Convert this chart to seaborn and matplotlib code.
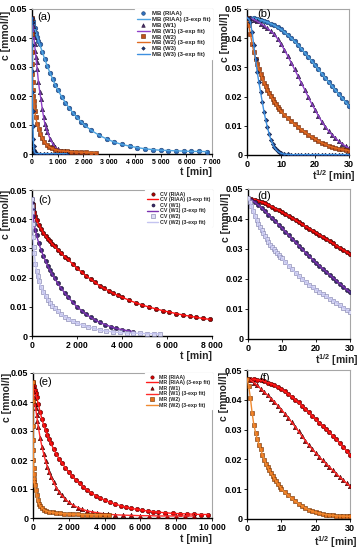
import matplotlib
matplotlib.use("Agg")
import matplotlib.pyplot as plt
import pandas as pd
import seaborn as sns
from matplotlib.lines import Line2D

# ---------------- data ----------------
s_grid = [0, 1, 2, 3, 4, 5, 6, 7, 8, 9, 10, 11, 12, 13, 14, 15, 16, 17, 18, 19, 20,
          21, 22, 23, 24, 25, 26, 27, 28, 29, 30]
s_fine = [0, 0.5, 1, 1.5, 2, 2.5, 3, 3.5, 4, 4.5, 5, 5.5, 6, 6.5, 7, 7.5, 8, 8.5, 9, 9.5, 10,
          11, 12, 13, 14, 15, 16, 17, 18, 19, 20, 21, 22, 23, 24, 25, 26, 27, 28, 29, 30]

y_ticks = [0, 0.01, 0.02, 0.03, 0.04, 0.05]
y_ticklabels = ["0", "0.01", "0.02", "0.03", "0.04", "0.05"]
sq_ticks = [0, 10, 20, 30]
sq_ticklabels = ["0", "10", "20", "30"]
mb_t_ticks = [0, 1000, 2000, 3000, 4000, 5000, 6000, 7000]
mb_t_ticklabels = ["0", "1 000", "2 000", "3 000", "4 000", "5 000", "6 000", "7 000"]
cv_t_ticks = [0, 2000, 4000, 6000, 8000]
cv_t_ticklabels = ["0", "2 000", "4 000", "6 000", "8 000"]
mr_t_ticks = [0, 2000, 4000, 6000, 8000, 10000]
mr_t_ticklabels = ["0", "2 000", "4 000", "6 000", "8 000", "10 000"]

mb_names = ["MB (RIAA)", "MB (W1)", "MB (W2)", "MB (W3)"]
cv_names = ["CV (RIAA)", "CV (W1)", "CV (W2)"]
mr_names = ["MR (RIAA)", "MR (W1)", "MR (W2)"]
fit_suffix = " (3-exp fit)"

# --- MB, c vs t (panel a)
mb_riaa_t = [0, 25, 50, 100, 150, 200, 250, 300, 400, 500, 600, 700, 800, 900, 1000, 1150, 1300,
             1450, 1600, 1750, 1900, 2050, 2300, 2600, 2900, 3200, 3500, 3800, 4100, 4400, 4700,
             5000, 5300, 5600, 5900, 6200, 6500, 6800]
mb_riaa_c = [0.047, 0.0458, 0.0449, 0.0433, 0.0418, 0.0404, 0.0391, 0.0378, 0.0352, 0.0326, 0.0302,
             0.028, 0.0259, 0.0239, 0.0222, 0.0198, 0.0177, 0.0158, 0.0141, 0.0126, 0.0112, 0.0099,
             0.0082, 0.0065, 0.0052, 0.0041, 0.0033, 0.0027, 0.0022, 0.0018, 0.0015, 0.0013, 0.0012,
             0.0011, 0.001, 0.0009, 0.0009, 0.0008]
mb_w1_t = [0, 10, 25, 50, 75, 100, 125, 150, 175, 200, 250, 300, 350, 400, 450, 500, 550, 600, 700,
           800, 900, 1000, 1150, 1300, 1450, 1600, 1800, 2000]
mb_w1_c = [0.047, 0.0458, 0.0443, 0.0423, 0.0402, 0.038, 0.0356, 0.0336, 0.0316, 0.0293, 0.025,
           0.0215, 0.0188, 0.0155, 0.0128, 0.0104, 0.009, 0.0076, 0.0053, 0.0036, 0.0023, 0.0017,
           0.0012, 0.0009, 0.0007, 0.0006, 0.0005, 0.0005]
mb_w2_t = [0, 1, 4, 9, 16, 25, 36, 49, 64, 81, 100, 144, 196, 256, 324, 400, 484, 576, 676, 784,
           900, 1050, 1200, 1350, 1500, 1700, 1900, 2100, 2300, 2500]
mb_w2_c = [0.047, 0.0415, 0.0352, 0.031, 0.0277, 0.0248, 0.0222, 0.0201, 0.0183, 0.0165, 0.0149,
           0.0127, 0.0105, 0.0087, 0.007, 0.0055, 0.0042, 0.0031, 0.0024, 0.0019, 0.0015, 0.0012,
           0.001, 0.0009, 0.0008, 0.0007, 0.0006, 0.0006, 0.0005, 0.0005]
mb_w3_t = [0, 1, 4, 9, 16, 25, 36, 49, 64, 81, 100, 121, 144, 169, 196, 300, 450, 600, 750, 900,
           1050, 1200, 1350]
mb_w3_c = [0.047, 0.0455, 0.0375, 0.0285, 0.0215, 0.0148, 0.0095, 0.0053, 0.0027, 0.0013, 0.0006,
           0.0003, 0.0002, 0.0001, 0.0001, 0.0001, 0.0001, 0.0001, 0.0001, 0.0001, 0.0001, 0.0001,
           0.0001]

# --- MB, c vs t^1/2 (panel b)
mb_riaa_r = [0.047, 0.0469, 0.0468, 0.0466, 0.0463, 0.0459, 0.0455, 0.045, 0.0444, 0.0437, 0.043,
             0.0421, 0.0411, 0.04, 0.0389, 0.0377, 0.0364, 0.035, 0.0336, 0.0322, 0.0308, 0.0293,
             0.0279, 0.0264, 0.025, 0.0236, 0.0222, 0.0208, 0.0195, 0.0181, 0.0168]
mb_w1_r = [0.047, 0.0468, 0.0464, 0.0458, 0.045, 0.0443, 0.0434, 0.0424, 0.0413, 0.0398, 0.038,
           0.036, 0.0339, 0.0316, 0.0293, 0.027, 0.0246, 0.0223, 0.0199, 0.0176, 0.0155, 0.0134,
           0.0114, 0.0097, 0.0082, 0.0069, 0.0058, 0.0047, 0.0038, 0.003, 0.0023]
mb_w2_r = [0.047, 0.0445, 0.0415, 0.0381, 0.0352, 0.0329, 0.031, 0.0293, 0.0277, 0.0262, 0.0248,
           0.0235, 0.0222, 0.0211, 0.0201, 0.0192, 0.0183, 0.0174, 0.0165, 0.0157, 0.0149, 0.0138,
           0.0127, 0.0115, 0.0105, 0.0096, 0.0087, 0.0078, 0.007, 0.0062, 0.0055, 0.0048, 0.0042,
           0.0037, 0.0031, 0.0027, 0.0024, 0.0021, 0.0019, 0.0017, 0.0015]
mb_w3_r = [0.047, 0.0466, 0.0455, 0.042, 0.0375, 0.033, 0.0285, 0.0249, 0.0215, 0.0181, 0.0148,
           0.012, 0.0095, 0.0073, 0.0053, 0.0039, 0.0027, 0.0019, 0.0013, 0.0009, 0.0006, 0.0003,
           0.0002, 0.0001, 0.0001, 0.0001, 0.0001, 0.0001, 0.0001, 0.0001, 0.0001, 0.0001, 0.0001,
           0.0001, 0.0001, 0.0001, 0.0001, 0.0001, 0.0001, 0.0001, 0.0001]

# --- CV, c vs t (panel c)
cv_riaa_t = [0, 25, 50, 100, 150, 200, 300, 400, 500, 600, 700, 800, 900, 1000, 1150, 1300, 1450,
             1600, 1800, 2000, 2200, 2400, 2600, 2800, 3000, 3200, 3400, 3600, 3800, 4000, 4300,
             4600, 4900, 5200, 5500, 5800, 6100, 6400, 6700, 7000, 7300, 7600, 7900]
cv_riaa_c = [0.047, 0.0452, 0.0441, 0.0425, 0.041, 0.0397, 0.0381, 0.0367, 0.0354, 0.0343, 0.0333,
             0.0324, 0.0315, 0.0307, 0.0295, 0.0284, 0.0272, 0.0262, 0.0247, 0.0232, 0.0219, 0.0206,
             0.0195, 0.0184, 0.0172, 0.0163, 0.0155, 0.0147, 0.0139, 0.0133, 0.0123, 0.0114, 0.0106,
             0.0099, 0.0093, 0.0087, 0.0082, 0.0077, 0.0072, 0.0068, 0.0064, 0.006, 0.0057]
cv_w1_t = [0, 10, 25, 50, 100, 150, 200, 300, 400, 500, 600, 700, 800, 900, 1000, 1150, 1300, 1450,
           1600, 1800, 2000, 2200, 2400, 2600, 2800, 3000, 3250, 3500, 3750, 4000, 4250, 4500]
cv_w1_c = [0.047, 0.0455, 0.0435, 0.041, 0.0383, 0.0362, 0.0345, 0.0318, 0.0295, 0.0275, 0.0257,
           0.024, 0.0225, 0.0211, 0.0198, 0.018, 0.0163, 0.0148, 0.0133, 0.0116, 0.01, 0.0087,
           0.0075, 0.0064, 0.0055, 0.0047, 0.0039, 0.0032, 0.0026, 0.0022, 0.0018, 0.0015]
cv_w2_t = [0, 5, 10, 25, 50, 75, 100, 150, 200, 250, 300, 400, 500, 600, 700, 800, 900, 1000, 1150,
           1300, 1450, 1600, 1800, 2000, 2250, 2500, 2750, 3000, 3300, 3600, 3900, 4200, 4500, 4800,
           5100, 5400, 5700]
cv_w2_c = [0.047, 0.0445, 0.0425, 0.0385, 0.0338, 0.0305, 0.0283, 0.0248, 0.0224, 0.0205, 0.0189,
           0.0168, 0.0151, 0.0137, 0.0125, 0.0114, 0.0104, 0.0095, 0.0084, 0.0074, 0.0066, 0.0059,
           0.0051, 0.0044, 0.0037, 0.0031, 0.0026, 0.002, 0.0017, 0.0014, 0.0012, 0.0011, 0.001,
           0.0009, 0.0008, 0.0008, 0.0007]

# --- CV, c vs t^1/2 (panel d)
cv_riaa_r = [0.047, 0.0468, 0.0465, 0.0461, 0.0457, 0.0452, 0.0447, 0.0441, 0.0435, 0.0429, 0.0423,
             0.0416, 0.041, 0.0403, 0.0396, 0.0389, 0.0382, 0.0375, 0.0368, 0.0361, 0.0354, 0.0347,
             0.034, 0.0333, 0.0326, 0.0319, 0.0311, 0.0304, 0.0297, 0.029, 0.0283]
cv_w1_r = [0.047, 0.0463, 0.0456, 0.0447, 0.0437, 0.0426, 0.0415, 0.0404, 0.0393, 0.0381, 0.037,
           0.0358, 0.0346, 0.0334, 0.0322, 0.031, 0.0299, 0.0287, 0.0276, 0.0265, 0.0254, 0.0244,
           0.0234, 0.0224, 0.0214, 0.0204, 0.0194, 0.0184, 0.0175, 0.0165, 0.0156]
cv_w2_r = [0.047, 0.0458, 0.0443, 0.0426, 0.041, 0.0397, 0.0385, 0.0373, 0.0362, 0.0352, 0.0342,
           0.0333, 0.0324, 0.0315, 0.0307, 0.03, 0.0294, 0.0287, 0.0281, 0.0275, 0.0269, 0.0256,
           0.0244, 0.0232, 0.0221, 0.021, 0.02, 0.019, 0.0181, 0.0172, 0.0164, 0.0157, 0.0149,
           0.0142, 0.0135, 0.0128, 0.0121, 0.0113, 0.0105, 0.0097, 0.0089]

# --- MR, c vs t (panel e)
mr_riaa_t = [0, 25, 50, 100, 150, 200, 300, 400, 500, 600, 700, 800, 900, 1000, 1150, 1300, 1450,
             1600, 1800, 2000, 2200, 2400, 2600, 2800, 3000, 3250, 3500, 3750, 4000, 4300, 4600,
             4900, 5200, 5500, 5800, 6100, 6400, 6700, 7000, 7400, 7800, 8200, 8600, 9000, 9400,
             9800]
mr_riaa_c = [0.047, 0.0462, 0.0455, 0.0442, 0.0432, 0.0418, 0.0392, 0.0365, 0.0341, 0.032, 0.0302,
             0.0286, 0.0271, 0.0257, 0.0238, 0.0221, 0.0205, 0.0191, 0.0174, 0.0158, 0.0144, 0.0131,
             0.0119, 0.0108, 0.0098, 0.0087, 0.0077, 0.0069, 0.0062, 0.0054, 0.0048, 0.0042, 0.0037,
             0.0033, 0.003, 0.0027, 0.0024, 0.0022, 0.002, 0.0018, 0.0016, 0.0015, 0.0014, 0.0013,
             0.0012, 0.0012]
mr_w1_t = [0, 10, 25, 50, 100, 150, 200, 250, 300, 400, 500, 600, 700, 800, 900, 1000, 1150, 1300,
           1450, 1600, 1800, 2000, 2250, 2500, 2750, 3000, 3300, 3600, 3900, 4200, 4600, 5000, 5500,
           6000, 6500, 7000, 7500, 8000, 8500, 9000]
mr_w1_c = [0.047, 0.0455, 0.0437, 0.0415, 0.0392, 0.0378, 0.0356, 0.0334, 0.0313, 0.0276, 0.0246,
           0.022, 0.0197, 0.0177, 0.0159, 0.0143, 0.0123, 0.0105, 0.009, 0.0078, 0.0065, 0.0054,
           0.0044, 0.0036, 0.003, 0.0025, 0.0021, 0.0018, 0.0015, 0.0013, 0.0011, 0.001, 0.0009,
           0.0008, 0.0008, 0.0007, 0.0007, 0.0007, 0.0007, 0.0007]
mr_w2_t = [0, 1, 4, 9, 16, 25, 36, 49, 64, 81, 100, 144, 196, 256, 324, 400, 500, 625, 750, 900,
           1100, 1300, 1500, 1750, 2000, 2250, 2500, 2750, 3000, 3250, 3500, 3750, 4000, 4250]
mr_w2_c = [0.047, 0.0405, 0.0316, 0.0268, 0.0234, 0.0199, 0.0173, 0.0153, 0.0135, 0.0125, 0.0115,
           0.0095, 0.0078, 0.0062, 0.005, 0.0041, 0.0034, 0.0028, 0.0024, 0.0021, 0.0019, 0.0017,
           0.0016, 0.0015, 0.0014, 0.0013, 0.0013, 0.0012, 0.0012, 0.0012, 0.0011, 0.0011, 0.0011,
           0.0011]

# --- MR, c vs t^1/2 (panel f)
mr_riaa_r = [0.047, 0.047, 0.0469, 0.0467, 0.0465, 0.0462, 0.0458, 0.0454, 0.0449, 0.0443, 0.0436,
             0.0428, 0.042, 0.0411, 0.0401, 0.0391, 0.038, 0.0369, 0.0358, 0.0346, 0.0334, 0.0323,
             0.0313, 0.0302, 0.0291, 0.0279, 0.0267, 0.0254, 0.0241, 0.0228, 0.0216]
mr_w1_r = [0.047, 0.0467, 0.0458, 0.0448, 0.0437, 0.0426, 0.0415, 0.0404, 0.0393, 0.038, 0.0367,
           0.0354, 0.034, 0.0325, 0.031, 0.0294, 0.0278, 0.0263, 0.0248, 0.0234, 0.0222, 0.0209,
           0.0197, 0.0186, 0.0175, 0.0163, 0.0152, 0.0141, 0.0131, 0.012, 0.011]
mr_w2_r = [0.047, 0.0445, 0.0405, 0.0355, 0.0316, 0.029, 0.0268, 0.025, 0.0234, 0.0216, 0.0199,
           0.0185, 0.0173, 0.0163, 0.0153, 0.0144, 0.0135, 0.0126, 0.0117, 0.0109, 0.0102, 0.0089,
           0.0079, 0.0069, 0.006, 0.0052, 0.0044, 0.0037, 0.0031, 0.0026, 0.0022, 0.0019, 0.0017,
           0.0015, 0.0013, 0.0012, 0.0011, 0.001, 0.001, 0.0009, 0.0009]

# ---------------- styles ----------------
ST = {
    "mb_riaa": dict(marker="o", s=11, face="#2e6fbd", edge="#1c3d6e", line="#4da3e0", lms=2.6),
    "mb_w1": dict(marker="^", s=10, face="#4a2d66", edge="#24123a", line="#9040c8", lms=2.6),
    "mb_w2": dict(marker="s", s=9, face="#c0501a", edge="#6a2500", line="#e06a20", lms=2.4),
    "mb_w3": dict(marker="D", s=5, face="#1f3a7a", edge="#101c40", line="#3d8fe0", lms=1.8),
    "cv_riaa": dict(marker="o", s=10, face="#b00000", edge="#300000", line="#ff1010", lms=2.4),
    "cv_w1": dict(marker="o", s=9, face="#3a2a70", edge="#1a1030", line="#7a30b0", lms=2.2),
    "cv_w2": dict(marker="s", s=10, face="#dcdcf4", edge="#7878a8", line="#c4c4f0", lms=2.4),
    "mr_riaa": dict(marker="o", s=10, face="#e00000", edge="#500000", line="#ff1a1a", lms=2.4),
    "mr_w1": dict(marker="^", s=10, face="#b00000", edge="#300000", line="#ff2a2a", lms=2.4),
    "mr_w2": dict(marker="s", s=10, face="#e8701a", edge="#6a3000", line="#f08a30", lms=2.4),
}

sns.set_theme(style="ticks")
plt.rcParams.update({
    "font.family": ["Liberation Sans", "DejaVu Sans"],
    "mathtext.fontset": "custom",
    "mathtext.rm": "Liberation Sans:bold",
    "mathtext.it": "Liberation Sans:bold",
    "mathtext.bf": "Liberation Sans:bold",
    "mathtext.default": "rm",
    "axes.facecolor": "white",
    "figure.facecolor": "white",
})

W, H = 363, 550
fig = plt.figure(figsize=(W / 100, H / 100), dpi=100)


def add_ax(l, t, r, b):
    return fig.add_axes([l / W, 1 - b / H, (r - l) / W, (b - t) / H])


def draw(ax, x, y, key, z):
    st = ST[key]
    df = pd.DataFrame({"x": x, "y": y})
    sns.scatterplot(data=df, x="x", y="y", ax=ax, marker=st["marker"], s=st["s"],
                    color=st["face"], edgecolor=st["edge"], linewidth=0.4, zorder=z,
                    legend=False)
    sns.lineplot(data=df, x="x", y="y", ax=ax, color=st["line"], lw=1.0, estimator=None,
                 sort=False, zorder=z + 0.5, legend=False)


def style(ax, xlim, xticks, xlabels, xfs, letter, lxy, xlab, xl_xy, yl_xy):
    ax.set_xlim(*xlim)
    ax.set_ylim(0, 0.05)
    ax.set_xticks(xticks)
    ax.set_xticklabels(xlabels, fontsize=xfs, fontweight="bold")
    ax.set_yticks(y_ticks)
    ax.set_yticklabels(y_ticklabels, fontsize=6.5, fontweight="bold")
    for side in ["left", "bottom"]:
        ax.spines[side].set_color("black")
        ax.spines[side].set_linewidth(1.0)
    for side in ["top", "right"]:
        ax.spines[side].set_visible(True)
        ax.spines[side].set_color("#a6a6a6")
        ax.spines[side].set_linewidth(0.8)
    ax.tick_params(direction="out", length=2, width=0.6, pad=1.5, colors="black",
                   left=True, bottom=True)
    ax.set_xlabel(xlab, loc="right", fontsize=7.5, fontweight="bold")
    ax.xaxis.set_label_coords(*xl_xy)
    ax.set_ylabel("c [mmol/l]", loc="top", fontsize=7.5, fontweight="bold")
    ax.yaxis.set_label_coords(*yl_xy)
    ax.text(lxy[0], lxy[1], letter, transform=ax.transAxes, fontsize=8, va="center",
            ha="left", color="black")


def legend(ax, keys, names, fs):
    handles, labels = [], []
    for k, n in zip(keys, names):
        st = ST[k]
        handles.append(Line2D([], [], ls="none", marker=st["marker"], ms=st["lms"],
                              mfc=st["face"], mec=st["edge"], mew=0.4))
        labels.append(n)
        handles.append(Line2D([], [], color=st["line"], lw=1.0))
        labels.append(n + fit_suffix)
    leg = ax.legend(handles, labels, loc="upper right", bbox_to_anchor=(1, 1),
                    borderaxespad=0, frameon=True, fancybox=False, framealpha=1,
                    edgecolor="white", prop=dict(weight="bold", size=fs),
                    handlelength=2.2, handletextpad=0.3, labelspacing=0.12,
                    borderpad=0.3, labelcolor="#262626")
    leg.set_zorder(20)


# ---- (a)
ax = add_ax(32, 9, 212, 154)
draw(ax, mb_riaa_t, mb_riaa_c, "mb_riaa", 3)
draw(ax, mb_w1_t, mb_w1_c, "mb_w1", 4)
draw(ax, mb_w2_t, mb_w2_c, "mb_w2", 5)
draw(ax, mb_w3_t, mb_w3_c, "mb_w3", 6)
style(ax, (0, 7000), mb_t_ticks, mb_t_ticklabels, 5.0, "(a)", (0.028, 0.945), "t [min]",
      (1.0, -0.09), (-0.119, 0.99))
legend(ax, ["mb_riaa", "mb_w1", "mb_w2", "mb_w3"], mb_names, 4.3)

# ---- (b)
ax = add_ax(247, 9, 349, 155)
ax.set_xlim(0, 30)
draw(ax, s_grid, mb_riaa_r, "mb_riaa", 3)
draw(ax, s_grid, mb_w1_r, "mb_w1", 4)
draw(ax, s_fine, mb_w2_r, "mb_w2", 5)
draw(ax, s_fine, mb_w3_r, "mb_w3", 6)
style(ax, (0, 30), sq_ticks, sq_ticklabels, 6.5, "(b)", (0.1, 0.966), r"t$^{1/2}$ [min]",
      (1.06, -0.089), (-0.17, 0.973))

# ---- (c)
ax = add_ax(32, 190, 212, 336)
draw(ax, cv_riaa_t, cv_riaa_c, "cv_riaa", 3)
draw(ax, cv_w1_t, cv_w1_c, "cv_w1", 4)
draw(ax, cv_w2_t, cv_w2_c, "cv_w2", 5)
style(ax, (0, 8000), cv_t_ticks, cv_t_ticklabels, 6.2, "(c)", (0.033, 0.93), "t [min]",
      (1.0, -0.103), (-0.119, 1.0))
ax.spines["right"].set_bounds(0.0377, 0.05)
legend(ax, ["cv_riaa", "cv_w1", "cv_w2"], cv_names, 3.8)

# ---- (d)
ax = add_ax(248, 189, 350, 339)
draw(ax, s_grid, cv_riaa_r, "cv_riaa", 3)
draw(ax, s_grid, cv_w1_r, "cv_w1", 4)
draw(ax, s_fine, cv_w2_r, "cv_w2", 5)
style(ax, (0, 30), sq_ticks, sq_ticklabels, 6.5, "(d)", (0.09, 0.953), r"t$^{1/2}$ [min]",
      (1.08, -0.087), (-0.17, 0.973))

# ---- (e)
ax = add_ax(33, 373, 212, 518)
draw(ax, mr_riaa_t, mr_riaa_c, "mr_riaa", 3)
draw(ax, mr_w1_t, mr_w1_c, "mr_w1", 4)
draw(ax, mr_w2_t, mr_w2_c, "mr_w2", 5)
style(ax, (0, 10000), mr_t_ticks, mr_t_ticklabels, 6.2, "(e)", (0.028, 0.938), "t [min]",
      (1.0, -0.11), (-0.12, 1.0))
legend(ax, ["mr_riaa", "mr_w1", "mr_w2"], mr_names, 3.8)

# ---- (f)
ax = add_ax(247, 370, 350, 519)
draw(ax, s_grid, mr_riaa_r, "mr_riaa", 3)
draw(ax, s_grid, mr_w1_r, "mr_w1", 4)
draw(ax, s_fine, mr_w2_r, "mr_w2", 5)
style(ax, (0, 30), sq_ticks, sq_ticklabels, 6.5, "(f)", (0.12, 0.946), r"t$^{1/2}$ [min]",
      (1.07, -0.1), (-0.17, 0.987))

fig.savefig("out.png", dpi=100)
